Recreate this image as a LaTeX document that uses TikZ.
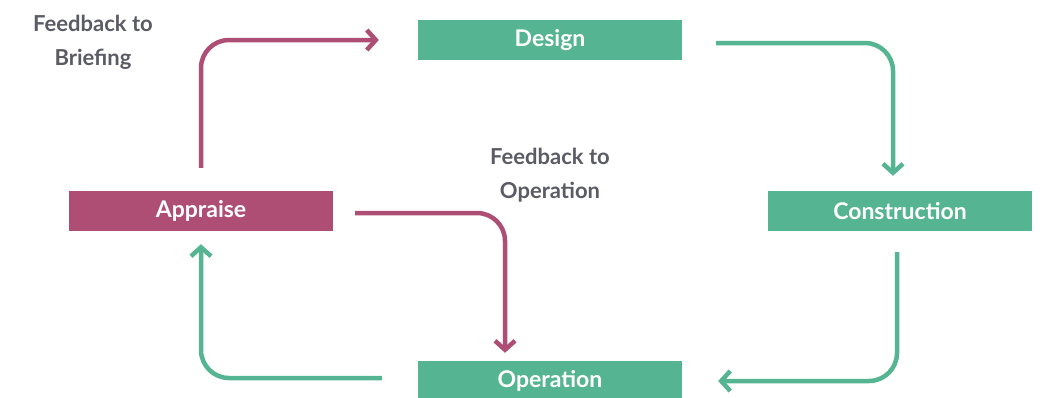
\documentclass[tikz,border=0pt]{standalone}
\usepackage{fontspec}
\setmainfont{Lato}
\usepackage{tikz}
\usetikzlibrary{positioning,arrows.meta}

\definecolor{cyclegreen}{HTML}{55B492}
\definecolor{cyclepink}{HTML}{AE4E75}
\definecolor{labelgray}{HTML}{5A5B64}

\begin{document}
\begin{tikzpicture}[x=1pt,y=-1pt,
	stage/.style={rectangle,minimum width=264pt,minimum height=40pt,inner sep=0pt,text=white,font=\fontsize{23}{27}\selectfont\bfseries},
	greenbox/.style={stage,fill=cyclegreen},
	pinkbox/.style={stage,fill=cyclepink},
	note/.style={align=center,text=labelgray,font=\fontsize{22}{34}\selectfont\bfseries},
	flow/.style={line width=4.5pt,rounded corners=28pt,-{Straight Barb[length=9pt,width=20pt]}},
	greenflow/.style={flow,draw=cyclegreen},
	pinkflow/.style={flow,draw=cyclepink}]
		\useasboundingbox (0,0) rectangle (1043,397);

		%stages
		\node[greenbox] (design) at (550,40) {Design};
		\node[greenbox] (construction) at (900,211) {Construction};
		\node[greenbox] (operation) at (550,381) {Operation};
		\node[pinkbox] (appraise) at (201,211) {Appraise};

		%labels
		\node[note] (briefing) at (93,42) {Feedback to\\Briefing};
		\node[note] (feedback) at (550,175) {Feedback to\\Operation};

		%edges
		\draw[greenflow] ([xshift=34pt,yshift=-3pt]design.east) -| ([xshift=-7pt,yshift=15pt]construction.north);
		\draw[greenflow] ([xshift=-3pt,yshift=-21pt]construction.south) |- ([xshift=36pt]operation.east);
		\draw[greenflow] ([xshift=-36pt,yshift=3pt]operation.west) -| ([yshift=-13pt]appraise.south);
		\draw[pinkflow] ([yshift=23pt]appraise.north) |- ([xshift=-39pt]design.west);
		\draw[pinkflow] ([xshift=22pt,yshift=-2pt]appraise.east) -| ([xshift=-45pt,yshift=8pt]operation.north);
	\end{tikzpicture}
\end{document}
